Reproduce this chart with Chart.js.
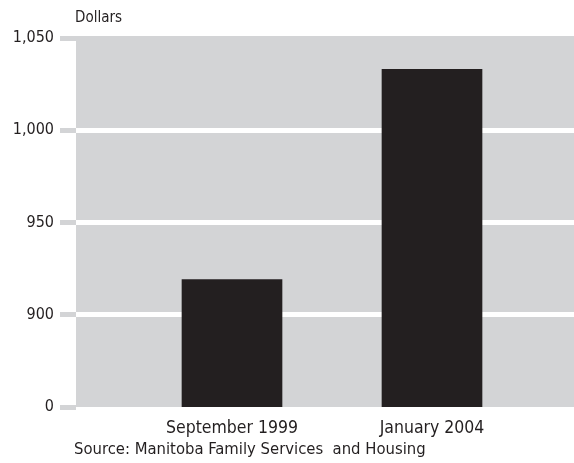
<!DOCTYPE html>
<html>
<head>
<meta charset="utf-8">
<script src="https://cdn.jsdelivr.net/npm/chart.js@4"></script>
<style>
  html, body { margin: 0; padding: 0; background: #fff; }
  .wrap { position: relative; width: 574px; height: 463px; }
  .note {
    position: absolute;
    font-family: 'Liberation Sans Narrow', 'DejaVu Sans Condensed', sans-serif;
    color: #231f20;
    white-space: pre;
  }
  #unit { left: 75px; top: 8px; font-size: 15px; }
  #source { left: 74px; top: 439px; font-size: 16.5px; }
</style>
</head>
<body>
<div class="wrap">
  <canvas id="chart" width="574" height="463"></canvas>
  <div class="note" id="unit">Dollars</div>
  <div class="note" id="source">Source: Manitoba Family Services  and Housing</div>
</div>
<script>
const categories = ['September 1999', 'January 2004'];
const amounts = [919, 1033];
// axis is broken: the bottom tick stands for 0
const yTicks = [850, 900, 950, 1000, 1050];
const yTickLabels = ['0', '900', '950', '1,000', '1,050'];

const fontFamily = "'Liberation Sans Narrow', 'DejaVu Sans Condensed', sans-serif";
const ink = '#231f20';
const panel = '#d3d4d6';

const panelFill = {
  id: 'panelFill',
  beforeDraw: (chart) => {
    const { ctx, chartArea } = chart;
    ctx.save();
    ctx.fillStyle = panel;
    ctx.fillRect(chartArea.left, chartArea.top - 2, chartArea.right - chartArea.left, chartArea.bottom - chartArea.top + 2);
    ctx.restore();
  },
};

new Chart(document.querySelector('#chart'), {
  type: 'bar',
  data: {
    datasets: [
      {
        data: amounts.map((v, i) => ({ x: i + 1, y: v })),
        backgroundColor: ink,
        borderWidth: 0,
        barThickness: 100,
      },
    ],
  },
  options: {
    responsive: false,
    animation: false,
    layout: { padding: { top: 38, right: 0, bottom: 0, left: 0 } },
    plugins: {
      legend: { display: false },
      tooltip: { enabled: false },
    },
    scales: {
      x: {
        type: 'linear',
        offset: false,
        min: 0.22,
        max: 2.71,
        grid: { display: false },
        border: { display: false },
        afterBuildTicks: (scale) => {
          scale.ticks = categories.map((_, i) => ({ value: i + 1 }));
        },
        afterFit: (scale) => { scale.height = 56; },
        ticks: {
          padding: 3,
          color: ink,
          font: { family: fontFamily, size: 17.5 },
          maxRotation: 0,
          callback: (value) => categories[value - 1] || '',
        },
      },
      y: {
        min: yTicks[0],
        max: yTicks[yTicks.length - 1],
        border: { display: false },
        afterBuildTicks: (scale) => {
          scale.ticks = yTicks.map((value) => ({ value }));
        },
        afterFit: (scale) => { scale.width = 76; },
        grid: {
          color: (ctx) => (ctx.tick && ctx.tick.value > yTicks[0] && ctx.tick.value < yTicks[yTicks.length - 1] ? '#ffffff' : 'rgba(0,0,0,0)'),
          lineWidth: 5,
          drawTicks: true,
          tickLength: 16,
          tickColor: panel,
          tickWidth: 5,
        },
        ticks: {
          padding: 6,
          color: ink,
          font: { family: fontFamily, size: 16 },
          callback: (value) => yTickLabels[yTicks.indexOf(value)] || '',
        },
      },
    },
  },
  plugins: [panelFill],
});
</script>
</body>
</html>
